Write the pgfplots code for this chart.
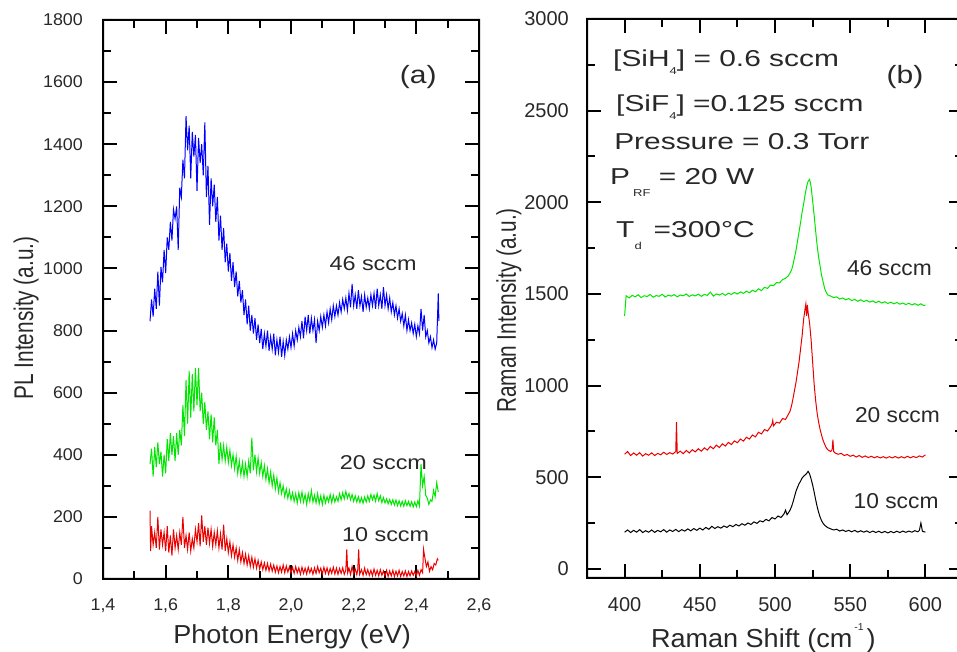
\documentclass[border=0pt]{standalone}
\usepackage{fontspec}
\setmainfont{Liberation Sans}
\newfontfamily\fTickA{Liberation Sans}[FakeStretch=1.05]
\newfontfamily\fLab{Liberation Sans}[FakeStretch=1.04]
\newfontfamily\fYlab{Liberation Sans}[FakeStretch=0.77]
\newfontfamily\fAnnA{Liberation Sans}[FakeStretch=1.17]
\newfontfamily\fAnnB{Liberation Sans}[FakeStretch=1.06]
\newfontfamily\fBlock{Liberation Sans}[FakeStretch=1.3]
\newfontfamily\fPanel{Liberation Sans}[FakeStretch=1.2]
\usepackage{pgfplots}
\pgfplotsset{compat=1.18}
\definecolor{cgreen}{RGB}{0,230,0}
\definecolor{cred}{RGB}{235,0,0}
\definecolor{cblue}{RGB}{0,0,255}
\definecolor{ctext}{RGB}{40,40,40}
\pgfplotsset{
  geomA/.style={scale only axis, width=376pt, height=559pt, anchor=south west,
    at={(103pt,73pt)}, xmin=1.4, xmax=2.6, ymin=0, ymax=1800},
  geomB/.style={scale only axis, width=376pt, height=559pt, anchor=south west,
    at={(587pt,74pt)}, xmin=375, xmax=625, ymin=-50, ymax=3000},
  frameaxis/.style={
    axis line style={line width=2pt},
    tick align=inside,
    major tick length=14pt, minor tick length=8pt,
    every tick/.style={line width=2pt, black},
    major tick style={line width=2pt, black},
    minor tick style={line width=2pt, black},
    /pgf/number format/assume math mode=true,
    clip mode=individual,
  },
  dataaxis/.style={hide axis, clip mode=individual,
    every axis plot/.append style={line width=1pt, mark=none}},
}
\begin{document}
\begin{tikzpicture}
% ================= frame + text, panel (a) =================
\begin{axis}[geomA, frameaxis,
  xtick={1.4,1.6,1.8,2.0,2.2,2.4,2.6},
  minor xtick={1.5,1.7,1.9,2.1,2.3,2.5},
  ytick={0,200,400,600,800,1000,1200,1400,1600,1800},
  minor ytick={100,300,500,700,900,1100,1300,1500,1700},
  x tick label style={/pgf/number format/use comma,/pgf/number format/fixed,/pgf/number format/fixed zerofill,/pgf/number format/precision=1,
     font=\fTickA\fontsize{17}{17}\selectfont, text=ctext, inner sep=0pt, yshift=-19.5pt},
  y tick label style={/pgf/number format/1000 sep={},
     font=\fTickA\fontsize{17}{17}\selectfont, text=ctext, inner sep=0pt, xshift=-20pt},
  xlabel={\fLab\fontsize{26}{26}\selectfont Photon Energy (eV)},
  xlabel style={at={(axis description cs:0.503,-0.1145)}, anchor=base, inner sep=0pt, text=ctext},
  ylabel={\fYlab\fontsize{27}{27}\selectfont PL Intensity (a.u.)},
  ylabel style={at={(axis description cs:-0.186,0.467)}, anchor=base, inner sep=0pt, text=ctext},
]
\fill[black, even odd rule] ([shift={(-1pt,-1pt)}]rel axis cs:0,0) rectangle ([shift={(1pt,1pt)}]rel axis cs:1,1)
  ([shift={(1pt,1pt)}]rel axis cs:0,0) rectangle ([shift={(-1pt,-1pt)}]rel axis cs:1,1);
\pgfplotsinvokeforeach{1.6,1.8,2.0,2.2,2.4}{
  \fill[black] ([xshift=-1pt]axis cs:#1,0) rectangle ([shift={(1pt,14pt)}]axis cs:#1,0);
  \fill[black] ([xshift=-1pt]axis cs:#1,1800) rectangle ([shift={(1pt,-14pt)}]axis cs:#1,1800);
}
\pgfplotsinvokeforeach{1.5,1.7,1.9,2.1,2.3,2.5}{
  \fill[black] ([xshift=-1pt]axis cs:#1,0) rectangle ([shift={(1pt,8pt)}]axis cs:#1,0);
  \fill[black] ([xshift=-1pt]axis cs:#1,1800) rectangle ([shift={(1pt,-8pt)}]axis cs:#1,1800);
}
\pgfplotsinvokeforeach{200,400,600,800,1000,1200,1400,1600}{
  \fill[black] ([yshift=-1pt]axis cs:1.4,#1) rectangle ([shift={(14pt,1pt)}]axis cs:1.4,#1);
  \fill[black] ([yshift=-1pt]axis cs:2.6,#1) rectangle ([shift={(-14pt,1pt)}]axis cs:2.6,#1);
}
\pgfplotsinvokeforeach{100,300,500,700,900,1100,1300,1500,1700}{
  \fill[black] ([yshift=-1pt]axis cs:1.4,#1) rectangle ([shift={(8pt,1pt)}]axis cs:1.4,#1);
  \fill[black] ([yshift=-1pt]axis cs:2.6,#1) rectangle ([shift={(-8pt,1pt)}]axis cs:2.6,#1);
}
\node[anchor=base, inner sep=0pt, text=ctext, font=\fAnnA\fontsize{20}{20}\selectfont] at (axis cs:2.262,993) {46 sccm};
\node[anchor=base, inner sep=0pt, text=ctext, font=\fAnnA\fontsize{20}{20}\selectfont] at (axis cs:2.295,353) {20 sccm};
\node[anchor=base, inner sep=0pt, text=ctext, font=\fAnnA\fontsize{20}{20}\selectfont] at (axis cs:2.302,122) {10 sccm};
\node[anchor=center, inner sep=0pt, text=ctext, font=\fPanel\fontsize{25}{25}\selectfont] at (axis cs:2.406,1615) {(a)};
\end{axis}
% ================= frame + text, panel (b) =================
\begin{axis}[geomB, frameaxis,
  xtick={400,450,500,550,600},
  minor xtick={425,475,525,575},
  ytick={0,500,1000,1500,2000,2500,3000},
  minor ytick={250,750,1250,1750,2250,2750},
  x tick label style={font=\fontsize{20}{20}\selectfont, text=ctext, inner sep=0pt, yshift=-19pt},
  y tick label style={/pgf/number format/1000 sep={},
     font=\fontsize{20}{20}\selectfont, text=ctext, inner sep=0pt, xshift=-18pt},
  xlabel={\fLab\fontsize{26}{26}\selectfont Raman Shift (cm\hspace{2pt}\raisebox{17pt}{\fontsize{10}{10}\selectfont -1}\hspace{3pt})},
  xlabel style={at={(axis description cs:0.469,-0.125)}, anchor=base, inner sep=0pt, text=ctext},
  ylabel={\fYlab\fontsize{27}{27}\selectfont Raman Intensity (a.u.)},
  ylabel style={at={(axis description cs:-0.189,0.4785)}, anchor=base, inner sep=0pt, text=ctext},
]
\fill[black, even odd rule] ([shift={(-1pt,-1pt)}]rel axis cs:0,0) rectangle ([shift={(1pt,1pt)}]rel axis cs:1,1)
  ([shift={(1pt,1pt)}]rel axis cs:0,0) rectangle ([shift={(-1pt,-1pt)}]rel axis cs:1,1);
\pgfplotsinvokeforeach{400,450,500,550,600}{
  \fill[black] ([xshift=-1pt]axis cs:#1,-50) rectangle ([shift={(1pt,14pt)}]axis cs:#1,-50);
  \fill[black] ([xshift=-1pt]axis cs:#1,3000) rectangle ([shift={(1pt,-14pt)}]axis cs:#1,3000);
}
\pgfplotsinvokeforeach{425,475,525,575}{
  \fill[black] ([xshift=-1pt]axis cs:#1,-50) rectangle ([shift={(1pt,8pt)}]axis cs:#1,-50);
  \fill[black] ([xshift=-1pt]axis cs:#1,3000) rectangle ([shift={(1pt,-8pt)}]axis cs:#1,3000);
}
\pgfplotsinvokeforeach{0,500,1000,1500,2000,2500}{
  \fill[black] ([yshift=-1pt]axis cs:375,#1) rectangle ([shift={(14pt,1pt)}]axis cs:375,#1);
  \fill[black] ([yshift=-1pt]axis cs:625,#1) rectangle ([shift={(-14pt,1pt)}]axis cs:625,#1);
}
\pgfplotsinvokeforeach{250,750,1250,1750,2250,2750}{
  \fill[black] ([yshift=-1pt]axis cs:375,#1) rectangle ([shift={(8pt,1pt)}]axis cs:375,#1);
  \fill[black] ([yshift=-1pt]axis cs:625,#1) rectangle ([shift={(-8pt,1pt)}]axis cs:625,#1);
}
\node[anchor=base, inner sep=0pt, text=ctext, font=\fAnnB\fontsize{21.5}{21.5}\selectfont] at (axis cs:576.1,1598) {46 sccm};
\node[anchor=base, inner sep=0pt, text=ctext, font=\fAnnB\fontsize{21.5}{21.5}\selectfont] at (axis cs:581.4,797) {20 sccm};
\node[anchor=base, inner sep=0pt, text=ctext, font=\fAnnB\fontsize{21.5}{21.5}\selectfont] at (axis cs:580.5,330) {10 sccm};
\node[anchor=center, inner sep=0pt, text=ctext, font=\fPanel\fontsize{25}{25}\selectfont] at (axis cs:586.4,2685) {(b)};
\node[anchor=base west, inner sep=0pt, text=ctext, font=\fBlock\fontsize{23}{23}\selectfont] at (axis cs:392.3,2740)
  {[SiH\raisebox{-8pt}{\fontsize{10}{10}\selectfont 4}] = 0.6 sccm};
\node[anchor=base west, inner sep=0pt, text=ctext, font=\fBlock\fontsize{23}{23}\selectfont] at (axis cs:394.3,2494)
  {[SiF\raisebox{-8pt}{\fontsize{10}{10}\selectfont 4}] =0.125 sccm};
\node[anchor=base west, inner sep=0pt, text=ctext, font=\fBlock\fontsize{23}{23}\selectfont] at (axis cs:393,2289)
  {Pressure = 0.3 Torr};
\node[anchor=base west, inner sep=0pt, text=ctext, font=\fBlock\fontsize{23}{23}\selectfont] at (axis cs:390.3,2098)
  {P\hspace{3pt}\raisebox{-12pt}{\fontsize{10}{10}\selectfont RF} = 20 W};
\node[anchor=base west, inner sep=0pt, text=ctext, font=\fBlock\fontsize{23}{23}\selectfont] at (axis cs:394.3,1809)
  {T\raisebox{-12pt}{\fontsize{10}{10}\selectfont d}\hspace{12pt}=300°C};
\end{axis}
% ================= data, panel (a) =================
\begin{axis}[geomA, dataaxis]
\addplot[cblue] coordinates {
(1.550,830)(1.555,900)(1.560,845)(1.565,935)(1.570,870)(1.575,990)(1.580,880)(1.585,1005)(1.590,955)(1.595,1060)
(1.600,985)(1.605,1100)(1.610,1060)(1.615,1150)(1.620,1090)(1.625,1190)(1.630,1160)(1.635,1200)(1.640,1060)(1.645,1260)
(1.650,1230)(1.655,1350)(1.660,1290)(1.665,1490)(1.670,1380)(1.675,1460)(1.680,1290)(1.685,1440)(1.690,1360)(1.695,1430)
(1.700,1250)(1.705,1420)(1.710,1340)(1.715,1400)(1.720,1300)(1.725,1470)(1.730,1230)(1.735,1330)(1.740,1140)(1.745,1290)
(1.750,1200)(1.755,1270)(1.760,1150)(1.765,1230)(1.770,1090)(1.775,1170)(1.780,1060)(1.785,1130)(1.790,1020)(1.795,1080)
(1.800,990)(1.805,1050)(1.810,960)(1.815,1020)(1.820,940)(1.825,990)(1.830,910)(1.835,960)(1.840,890)(1.845,930)
(1.850,850)(1.855,900)(1.860,820)(1.865,880)(1.870,800)(1.875,850)(1.880,790)(1.885,840)(1.890,770)(1.895,820)
(1.900,760)(1.905,805)(1.910,740)(1.915,790)(1.920,750)(1.925,800)(1.930,735)(1.935,780)(1.940,740)(1.945,790)
(1.950,720)(1.955,770)(1.960,730)(1.965,780)(1.970,715)(1.975,765)(1.980,720)(1.985,770)(1.990,740)(1.995,780)
(2.000,745)(2.005,790)(2.010,750)(2.015,800)(2.020,770)(2.025,810)(2.030,780)(2.035,830)(2.040,775)(2.045,845)
(2.050,800)(2.055,850)(2.060,790)(2.065,840)(2.070,800)(2.075,835)(2.080,760)(2.085,830)(2.090,800)(2.095,845)
(2.100,810)(2.105,850)(2.110,815)(2.115,860)(2.120,825)(2.125,870)(2.130,835)(2.135,880)(2.140,845)(2.145,880)
(2.150,850)(2.155,890)(2.160,860)(2.165,900)(2.170,870)(2.175,905)(2.180,865)(2.185,920)(2.190,875)(2.195,950)
(2.200,880)(2.205,915)(2.210,870)(2.215,930)(2.220,880)(2.225,910)(2.230,860)(2.235,915)(2.240,875)(2.245,905)
(2.250,870)(2.255,915)(2.260,880)(2.265,920)(2.270,870)(2.275,935)(2.280,880)(2.285,915)(2.290,870)(2.295,940)
(2.300,880)(2.305,915)(2.310,870)(2.315,905)(2.320,860)(2.325,890)(2.330,850)(2.335,880)(2.340,840)(2.345,870)
(2.350,830)(2.355,855)(2.360,815)(2.365,850)(2.370,800)(2.375,835)(2.380,800)(2.385,825)(2.390,790)(2.395,820)
(2.400,780)(2.405,815)(2.410,790)(2.415,870)(2.420,800)(2.425,850)(2.430,780)(2.435,800)(2.440,760)(2.445,780)
(2.450,745)(2.455,770)(2.460,740)(2.465,760)(2.470,920)(2.472,830)
};
\addplot[cgreen] coordinates {
(1.550,370)(1.555,420)(1.560,330)(1.565,425)(1.570,360)(1.575,440)(1.580,370)(1.585,410)(1.590,330)(1.595,400)
(1.600,340)(1.605,450)(1.610,380)(1.615,470)(1.620,400)(1.625,460)(1.630,380)(1.635,470)(1.640,400)(1.645,480)
(1.650,430)(1.655,560)(1.660,460)(1.665,640)(1.670,500)(1.675,670)(1.680,520)(1.685,660)(1.690,540)(1.695,680)
(1.700,560)(1.705,680)(1.710,540)(1.715,600)(1.720,500)(1.725,570)(1.730,480)(1.735,540)(1.740,450)(1.745,530)
(1.750,440)(1.755,520)(1.760,430)(1.765,480)(1.770,370)(1.775,440)(1.780,385)(1.785,430)(1.790,380)(1.795,425)
(1.800,375)(1.805,415)(1.810,365)(1.815,400)(1.820,355)(1.825,395)(1.830,340)(1.835,380)(1.840,335)(1.845,375)
(1.850,330)(1.855,370)(1.860,330)(1.865,380)(1.870,340)(1.875,455)(1.880,350)(1.885,400)(1.890,345)(1.895,390)
(1.900,340)(1.905,375)(1.910,330)(1.915,365)(1.920,320)(1.925,355)(1.930,310)(1.935,345)(1.940,300)(1.945,335)
(1.950,290)(1.955,325)(1.960,280)(1.965,310)(1.970,275)(1.975,300)(1.980,265)(1.985,290)(1.990,260)(1.995,285)
(2.000,255)(2.005,278)(2.010,250)(2.015,275)(2.020,245)(2.025,278)(2.030,250)(2.035,280)(2.040,248)(2.045,272)
(2.050,240)(2.055,275)(2.060,250)(2.065,285)(2.070,248)(2.075,270)(2.080,245)(2.085,275)(2.090,242)(2.095,268)
(2.100,240)(2.105,270)(2.110,245)(2.115,265)(2.120,248)(2.125,272)(2.130,246)(2.135,270)(2.140,248)(2.145,265)
(2.150,250)(2.155,275)(2.160,255)(2.165,278)(2.170,258)(2.175,282)(2.180,260)(2.185,275)(2.190,255)(2.195,272)
(2.200,250)(2.205,268)(2.210,248)(2.215,265)(2.220,246)(2.225,262)(2.230,244)(2.235,264)(2.240,248)(2.245,268)
(2.250,250)(2.255,272)(2.260,255)(2.265,270)(2.270,250)(2.275,275)(2.280,252)(2.285,268)(2.290,246)(2.295,262)
(2.300,245)(2.305,258)(2.310,242)(2.315,256)(2.320,240)(2.325,255)(2.330,238)(2.335,254)(2.340,236)(2.345,252)
(2.350,235)(2.355,250)(2.360,234)(2.365,252)(2.370,236)(2.375,250)(2.380,234)(2.385,249)(2.390,232)(2.395,248)
(2.400,233)(2.405,252)(2.410,235)(2.415,370)(2.420,300)(2.425,330)(2.430,270)(2.435,260)(2.440,240)(2.445,255)
(2.450,250)(2.455,285)(2.460,265)(2.465,310)(2.470,280)
};
\addplot[cred] coordinates {
(1.550,220)(1.552,90)(1.555,170)(1.560,110)(1.565,150)(1.570,100)(1.575,200)(1.580,95)(1.585,160)(1.590,110)
(1.595,150)(1.600,90)(1.605,170)(1.610,85)(1.615,140)(1.620,75)(1.625,160)(1.630,100)(1.635,140)(1.640,95)
(1.645,150)(1.650,110)(1.655,200)(1.660,100)(1.665,140)(1.670,95)(1.675,150)(1.680,90)(1.685,130)(1.690,100)
(1.695,160)(1.700,120)(1.705,180)(1.710,105)(1.715,205)(1.720,120)(1.725,170)(1.730,110)(1.735,165)(1.740,115)
(1.745,160)(1.750,105)(1.755,150)(1.760,110)(1.765,155)(1.770,100)(1.775,145)(1.780,95)(1.785,175)(1.790,90)
(1.795,130)(1.800,85)(1.805,120)(1.810,75)(1.815,110)(1.820,70)(1.825,100)(1.830,60)(1.835,95)(1.840,55)
(1.845,85)(1.850,50)(1.855,80)(1.860,45)(1.865,75)(1.870,40)(1.875,70)(1.880,38)(1.885,65)(1.890,35)
(1.895,60)(1.900,32)(1.905,55)(1.910,30)(1.915,52)(1.920,28)(1.925,50)(1.930,26)(1.935,48)(1.940,25)
(1.945,45)(1.950,22)(1.955,42)(1.960,20)(1.965,40)(1.970,22)(1.975,45)(1.980,20)(1.985,42)(1.990,22)
(1.995,40)(2.000,20)(2.005,38)(2.010,18)(2.015,40)(2.020,20)(2.025,36)(2.030,15)(2.035,38)(2.040,18)
(2.045,35)(2.050,16)(2.055,38)(2.060,20)(2.065,34)(2.070,15)(2.075,36)(2.080,18)(2.085,40)(2.090,20)
(2.095,35)(2.100,16)(2.105,38)(2.110,18)(2.115,36)(2.120,15)(2.125,34)(2.130,18)(2.135,38)(2.140,16)
(2.145,35)(2.150,15)(2.155,34)(2.160,18)(2.165,36)(2.170,15)(2.175,30)(2.178,95)(2.181,20)(2.185,35)
(2.190,14)(2.195,40)(2.200,16)(2.205,32)(2.210,14)(2.213,30)(2.216,95)(2.219,15)(2.225,30)(2.230,12)
(2.235,35)(2.240,14)(2.245,30)(2.250,12)(2.255,28)(2.260,10)(2.265,32)(2.270,12)(2.275,28)(2.280,10)
(2.285,30)(2.290,12)(2.295,26)(2.300,10)(2.305,28)(2.310,8)(2.315,26)(2.320,10)(2.325,28)(2.330,8)
(2.335,25)(2.340,10)(2.345,28)(2.350,8)(2.355,24)(2.360,10)(2.365,26)(2.370,8)(2.375,24)(2.380,10)
(2.385,26)(2.390,12)(2.395,24)(2.400,10)(2.405,28)(2.410,12)(2.415,30)(2.420,20)(2.423,95)(2.427,70)
(2.432,40)(2.437,55)(2.442,25)(2.447,40)(2.452,30)(2.457,50)(2.462,45)(2.467,65)(2.470,60)
};
\end{axis}
% ================= data, panel (b) =================
\begin{axis}[geomB, dataaxis]
\addplot[cgreen] coordinates {
(400,1380)(401,1490)(403,1478)(405,1492)(407,1484)(409,1495)(411,1480)(413,1490)(415,1486)(417,1497)
(419,1482)(421,1491)(423,1487)(425,1498)(427,1483)(429,1493)(431,1488)(433,1496)(435,1484)(437,1494)
(439,1490)(441,1500)(443,1486)(445,1495)(447,1489)(449,1499)(451,1487)(453,1497)(455,1492)(457,1510)
(459,1488)(461,1500)(463,1494)(465,1503)(467,1492)(469,1504)(471,1497)(473,1508)(475,1499)(477,1511)
(479,1503)(481,1515)(483,1506)(485,1520)(487,1512)(489,1528)(491,1518)(493,1536)(495,1530)(497,1548)
(499,1545)(501,1562)(503,1560)(505,1578)(507,1585)(509,1600)(511,1630)(512,1660)(513,1700)(514,1740)
(515,1790)(516,1840)(517,1890)(518,1945)(519,1990)(520,2040)(521,2085)(522,2115)(523,2125)(524,2085)
(525,2010)(526,1930)(527,1845)(528,1765)(529,1700)(530,1650)(531,1600)(532,1565)(533,1530)(534,1510)
(535,1495)(537,1488)(539,1480)(541,1484)(543,1472)(545,1478)(547,1468)(549,1475)(551,1464)(553,1470)
(555,1460)(557,1468)(559,1458)(561,1465)(563,1455)(565,1462)(567,1452)(569,1460)(571,1450)(573,1457)
(575,1448)(577,1455)(579,1446)(581,1453)(583,1444)(585,1450)(587,1442)(589,1449)(591,1440)(593,1447)
(595,1438)(597,1446)(599,1436)(600,1440)
};
\addplot[cred] coordinates {
(400,625)(402,640)(404,618)(406,632)(408,620)(410,634)(412,615)(414,628)(416,620)(418,633)
(420,618)(422,630)(424,622)(426,636)(428,624)(430,634)(432,626)(434,640)(434.5,800)(435,630)
(437,642)(439,628)(441,646)(443,632)(445,650)(447,638)(449,655)(451,642)(453,660)(455,648)
(457,668)(459,655)(461,675)(463,662)(465,682)(467,670)(469,690)(471,678)(473,698)(475,688)
(477,708)(479,697)(481,718)(483,708)(485,730)(487,720)(489,745)(491,736)(493,760)(495,752)
(497,775)(498,790)(498.5,810)(499,780)(501,800)(503,795)(505,820)(507,815)(509,845)(510,860)
(511,890)(512,930)(513,975)(514,1020)(515,1075)(516,1130)(517,1200)(518,1270)(519,1360)(520,1420)
(520.5,1445)(521,1380)(521.5,1440)(522,1400)(523,1340)(524,1250)(525,1130)(526,1010)(527,920)(528,850)
(529,800)(530,760)(531,728)(532,700)(533,680)(534,662)(535,650)(536,645)(537,640)(538,650)
(538.5,705)(539,640)(540,632)(542,625)(544,630)(546,618)(548,624)(550,614)(552,620)(554,610)
(556,618)(558,608)(560,616)(562,607)(564,614)(566,606)(568,613)(570,605)(572,612)(574,604)
(576,612)(578,605)(580,613)(582,604)(584,612)(586,605)(588,614)(590,606)(592,613)(594,607)
(596,616)(598,610)(600,622)
};
\addplot[black] coordinates {
(400,200)(402,212)(404,198)(406,210)(408,200)(410,214)(412,198)(414,208)(416,200)(418,212)
(420,199)(422,210)(424,202)(426,214)(428,200)(430,212)(432,204)(434,215)(436,203)(438,214)
(440,206)(442,218)(444,207)(446,220)(448,210)(450,222)(452,212)(454,226)(456,216)(458,232)
(460,220)(462,230)(464,222)(466,234)(468,226)(470,238)(472,230)(474,242)(476,234)(478,246)
(480,238)(482,250)(484,242)(486,256)(488,248)(490,262)(492,256)(494,270)(496,262)(498,280)
(500,272)(502,288)(504,280)(506,300)(507,320)(508,295)(510,320)(511,340)(512,365)(513,395)
(514,425)(515,445)(516,465)(517,478)(518,495)(519,505)(520,512)(521,520)(522,532)(523,518)
(524,490)(525,458)(526,420)(527,378)(528,340)(529,308)(530,282)(531,262)(532,248)(533,238)
(535,225)(537,218)(539,212)(541,216)(543,206)(545,212)(547,204)(549,210)(551,202)(553,210)
(555,200)(557,208)(559,200)(561,207)(563,198)(565,206)(567,198)(569,205)(571,197)(573,204)
(575,196)(577,204)(579,197)(581,205)(583,198)(585,206)(587,199)(589,206)(591,200)(593,208)
(595,202)(596,210)(597,250)(598,205)(600,200)
};
\end{axis}
\pgfresetboundingbox
\path[use as bounding box] (0pt,0pt) rectangle (957pt,652pt);
\end{tikzpicture}
\end{document}
